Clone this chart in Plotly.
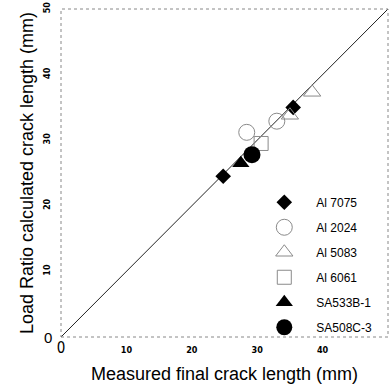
import plotly.graph_objects as go

# ---- data ----
al7075_x = [24.8, 35.5]
al7075_y = [24.5, 35.0]
al2024_x = [28.4, 33.0]
al2024_y = [31.2, 32.9]
al5083_x = [38.4, 35.0]
al5083_y = [37.3, 33.8]
al6061_x = [30.6]
al6061_y = [29.5]
sa533_x = [27.5]
sa533_y = [26.5]
sa508_x = [29.2]
sa508_y = [27.8]
line_x = [0, 50]
line_y = [0, 50]
x_tick_vals = [0, 10, 20, 30, 40, 50]
x_tick_text = ['<span style="font-size:15px;font-weight:normal">0</span>', "10", "20", "30", "40", "50"]
y_tick_vals = [10, 20, 30, 40, 50]
y_tick_text = ["10", "20", "30", "40", "50"]

fig = go.Figure()
fig.add_trace(go.Scatter(x=line_x, y=line_y, mode="lines",
                         line=dict(color="#222", width=1), showlegend=False, hoverinfo="skip"))

grey = "#8a8a8a"
series = [
    ("Al 7075", al7075_x, al7075_y, "diamond", "black", 12, None),
    ("Al 2024", al2024_x, al2024_y, "circle-open", grey, 16, 1),
    ("Al 5083", al5083_x, al5083_y, "triangle-up-open", grey, 15, 1),
    ("Al 6061", al6061_x, al6061_y, "square-open", grey, 14, 1),
    ("SA533B-1", sa533_x, sa533_y, "triangle-up", "black", 15, None),
    ("SA508C-3", sa508_x, sa508_y, "circle", "black", 17, None),
]
for i, (name, xs, ys, sym, col, sz, lw) in enumerate(series):
    mk = dict(symbol=sym, color=col, size=sz)
    if lw:
        mk["line"] = dict(color=col, width=lw)
    else:
        mk["line"] = dict(width=0)
    fig.add_trace(go.Scatter(x=xs, y=ys, mode="markers", name=name, marker=mk,
                             legendgroup=f"g{i}"))

tickfont = dict(family="Liberation Sans Narrow, DejaVu Sans Condensed, Arial Narrow, sans-serif",
                size=9, color="black", weight="bold")

fig.update_layout(
    width=389, height=385,
    margin=dict(l=61, r=1, t=9, b=48),
    paper_bgcolor="white", plot_bgcolor="white",
    font=dict(family="Arial, Liberation Sans, sans-serif", color="black"),
    xaxis=dict(range=[0, 50], tickvals=x_tick_vals, ticktext=x_tick_text, tickfont=tickfont,
               showgrid=False, zeroline=False, showline=False, ticks="", ticklabelstandoff=6,
               title=dict(text="Measured final crack length (mm)", font=dict(size=18), standoff=11)),
    yaxis=dict(range=[0, 50], tickvals=y_tick_vals, ticktext=y_tick_text, tickfont=tickfont,
               tickangle=-90, ticklabelstandoff=8,
               showgrid=False, zeroline=False, showline=False, ticks="",
               title=dict(text="Load Ratio calculated crack length (mm)", font=dict(size=18), standoff=3)),
    legend=dict(x=0.585, y=0.455, xanchor="left", yanchor="top", bgcolor="rgba(0,0,0,0)",
                font=dict(size=12), traceorder="grouped", tracegroupgap=6, itemwidth=54),
    shapes=[dict(type="rect", xref="paper", yref="paper", x0=0, y0=0, x1=1, y1=1,
                 line=dict(color="#888", width=1, dash="dot"))],
    annotations=[dict(x=0, y=0, xref="x", yref="y", text="0", showarrow=False,
                      xanchor="right", yanchor="middle", xshift=-7,
                      font=dict(size=15, color="black"))],
)

fig.write_html("out.html")
